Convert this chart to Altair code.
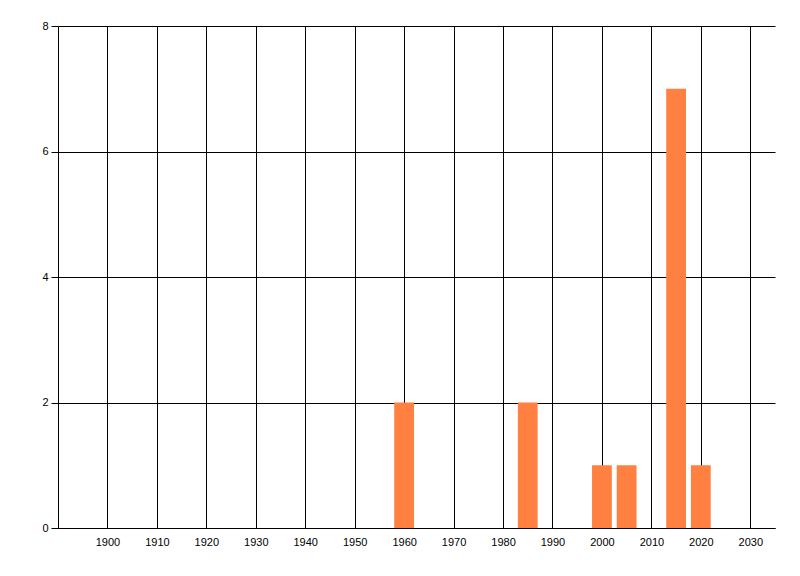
import altair as alt
import pandas as pd

years = [1960, 1985, 2000, 2005, 2015, 2020]
counts = [2, 2, 1, 1, 7, 1]
x_ticks = list(range(1900, 2031, 10))
y_ticks = [0, 2, 4, 6, 8]

df = pd.DataFrame({"year": years, "count": counts})

font = "Liberation Sans"

chart = alt.Chart(df).transform_calculate(
    x0="datum.year - 2", x1="datum.year + 2"
).mark_bar(color="#FF8041").encode(
    x=alt.X("x0:Q", scale=alt.Scale(domain=[1890, 2035], nice=False, zero=False, padding=0),
            axis=alt.Axis(values=x_ticks, title=None, format="d", grid=True,
                          gridColor="black", gridOpacity=1, gridWidth=1,
                          domainColor="black", domainWidth=1, tickSize=0,
                          labelPadding=8, labelFont=font, labelFontSize=11,
                          labelColor="black")),
    x2="x1:Q",
    y=alt.Y("count:Q", scale=alt.Scale(domain=[0, 8], nice=False, padding=0),
            axis=alt.Axis(values=y_ticks, title=None, grid=True,
                          gridColor="black", gridOpacity=1, gridWidth=1,
                          domainColor="black", domainWidth=1, tickColor="black",
                          tickSize=7, labelPadding=3, labelFont=font,
                          labelFontSize=11, labelColor="black")),
    y2=alt.datum(0),
).properties(
    width=717, height=502,
    autosize=alt.AutoSizeParams(type="none"),
    padding={"left": 50, "top": 18, "right": 10, "bottom": 40},
).configure(background="white").configure_view(stroke=None, strokeWidth=0)

chart.save("out.html", embed_options={"renderer": "svg", "actions": False})
